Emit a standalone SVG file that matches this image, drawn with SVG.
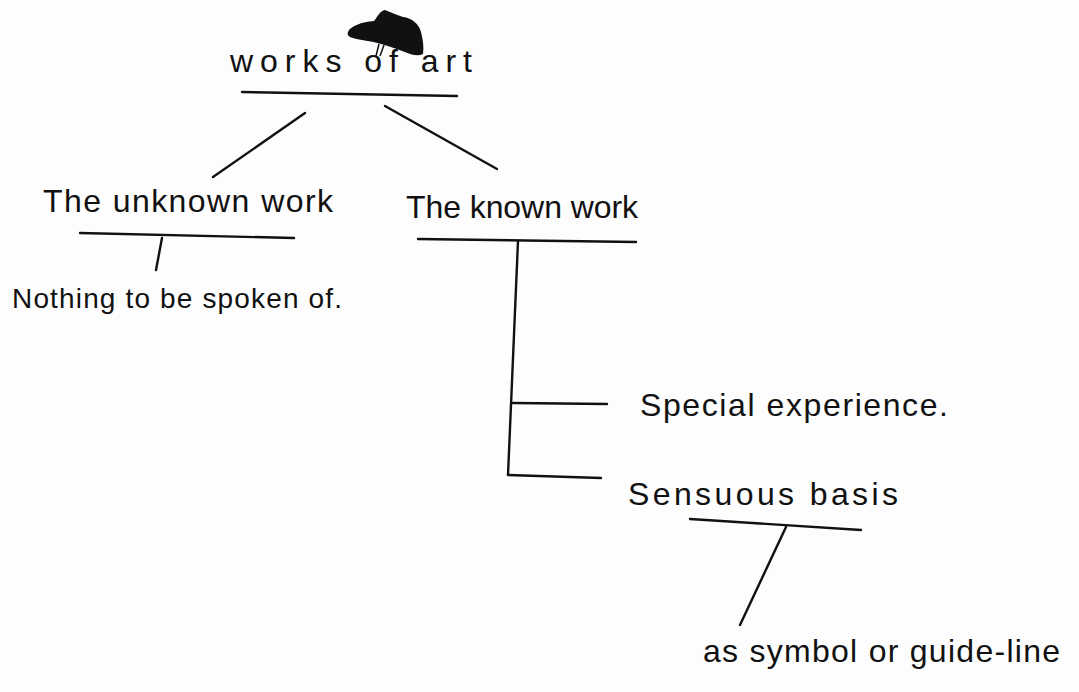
<svg xmlns="http://www.w3.org/2000/svg" width="1079" height="692" viewBox="0 0 1079 692">
<style>
.t{font-family:"Liberation Sans","DejaVu Sans",sans-serif;font-size:32px;fill:#111}
.c line{stroke:#111;stroke-width:2.4;stroke-linecap:round}
</style>
<rect width="1079" height="692" fill="#fdfdfd"/>
<path d="M348,32 C350,26 362,22 374,21 C378,16 380,11 385,10 C391,12 396,15 403,17 C412,18 419,24 421,32 C423,40 424,47 423,54 C417,57 410,54 402,51 C395,48 388,46 381,44 C372,41 357,40 350,37 C348,36 347,34 348,32 Z" fill="#111"/>
<path d="M379,44 L376,56 M384,45 L380,56" stroke="#111" stroke-width="1.5" fill="none"/>
<g id="works-of-art"><text class="t" x="230" y="72" textLength="242" lengthAdjust="spacing">works of art</text></g>
<g id="unknown-work"><text class="t" x="43" y="212" textLength="290" lengthAdjust="spacing">The unknown work</text></g>
<g id="known-work"><text class="t" x="406" y="218" textLength="232" lengthAdjust="spacing">The known work</text></g>
<g id="nothing"><text class="t" x="12" y="308" textLength="330" lengthAdjust="spacing" style="font-size:28px">Nothing to be spoken of.</text></g>
<g id="special"><text class="t" x="640" y="416" textLength="308" lengthAdjust="spacing">Special experience.</text></g>
<g id="sensuous"><text class="t" x="628" y="505" textLength="270" lengthAdjust="spacing">Sensuous basis</text></g>
<g id="symbol"><text class="t" x="703" y="662" textLength="357" lengthAdjust="spacing">as symbol or guide-line</text></g>
<g class="c" id="connectors">
<line x1="242" y1="92" x2="457" y2="96"/>
<line x1="305" y1="113" x2="213" y2="177"/>
<line x1="385" y1="106" x2="497" y2="169"/>
<line x1="80" y1="233" x2="294" y2="238"/>
<line x1="162" y1="238" x2="156" y2="270"/>
<line x1="418" y1="239" x2="636" y2="242"/>
<line x1="518" y1="241" x2="508" y2="475"/>
<line x1="513" y1="403" x2="607" y2="404"/>
<line x1="508" y1="475" x2="601" y2="478"/>
<line x1="690" y1="519" x2="861" y2="530"/>
<line x1="786" y1="527" x2="740" y2="625"/>
</g>
</svg>
